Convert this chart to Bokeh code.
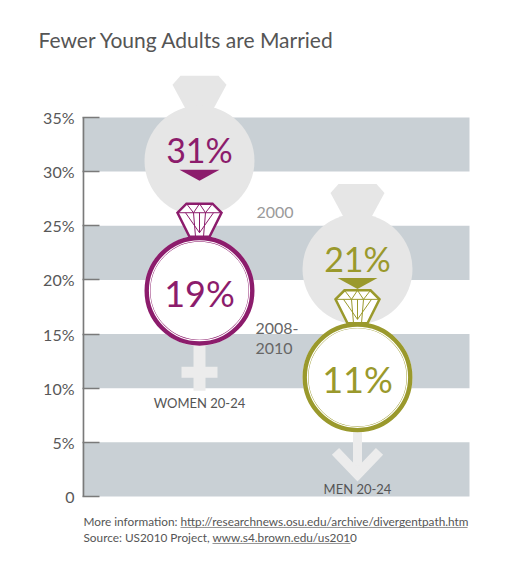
from bokeh.plotting import figure
from bokeh.models import FixedTicker, Range1d
from bokeh.core.properties import value
from bokeh.embed import file_html
from bokeh.resources import INLINE

# ---------------- data ----------------
groups = ["WOMEN 20-24", "MEN 20-24"]
pct_2000 = [31, 21]
pct_2010 = [19, 11]
group_colors = ["#8c1c6c", "#9a992c"]
tick_values = [0, 5, 10, 15, 20, 25, 30, 35]
tick_labels = ["0", "5%", "10%", "15%", "20%", "25%", "30%", "35%"]
band_lows = [0, 10, 20, 30]
band_height = 5
year_2000 = "2000"
year_2010 = ["2008-", "2010"]
title_text = "Fewer Young Adults are Married"
notes = ["More information: http://researchnews.osu.edu/archive/divergentpath.htm",
         "Source: US2010 Project, www.s4.brown.edu/us2010"]

# ---------------- layout ----------------
W, H = 509, 550
MB_L, MB_R, MB_T, MB_B = 82, 10, 60, 2
FW = W - MB_L - MB_R
FH = H - MB_T - MB_B
YS = 10.829                  # px per percent
Y1 = 40.26
Y0 = Y1 - FH / YS


def dy(px):
    return px / YS


cat_x = [117, 275]
band_right = 387
FONT = "Lato"
GRAY_TXT = "#585858"
SIL = "#e6e6e6"
SYM = "#ececec"

p = figure(width=W, height=H, output_backend="svg", toolbar_location=None,
           x_range=Range1d(0, FW), y_range=Range1d(Y0, Y1),
           x_axis_location=None, min_border_left=MB_L, min_border_right=MB_R,
           min_border_top=MB_T, min_border_bottom=MB_B)
p.outline_line_color = None
p.xgrid.visible = False
p.ygrid.visible = False
p.background_fill_color = "white"
p.border_fill_color = "white"

p.title.text = title_text
p.title.text_font = FONT
p.title.text_font_size = "21px"
p.title.text_font_style = "normal"
p.title.text_color = "#555555"
p.title.align = "left"
p.title.offset = -44
p.title.standoff = 18

ax = p.yaxis[0]
ax.ticker = FixedTicker(ticks=tick_values)
ax.major_label_overrides = {v: l for v, l in zip(tick_values, tick_labels)}
ax.major_label_text_font = FONT
ax.major_label_text_font_size = "16px"
ax.major_label_text_color = GRAY_TXT
ax.major_tick_in = 17
ax.major_tick_out = 0
ax.major_tick_line_color = "#7a7a7a"
ax.major_tick_line_width = 1.5
ax.minor_tick_line_color = None
ax.axis_line_color = None
ax.major_label_standoff = 8

# bands
p.quad(left=[0] * len(band_lows), right=[band_right] * len(band_lows),
       bottom=band_lows, top=[b + band_height for b in band_lows],
       fill_color="#c9d0d5", line_color=None)
# axis line
p.segment(x0=[0.8], y0=[tick_values[0]], x1=[0.8], y1=[tick_values[-1]],
          line_color="#7a7a7a", line_width=2)

# ------------- 2000 silhouettes -------------
for cx, v, col in zip(cat_x, pct_2000, group_colors):
    ctop = v + dy(55)
    p.patch([cx - 19, cx + 19, cx + 27, cx + 14, cx - 14, cx - 27],
            [ctop + dy(30), ctop + dy(30), ctop + dy(21), ctop - dy(3), ctop - dy(3), ctop + dy(21)],
            fill_color=SIL, line_color=None)
p.scatter(cat_x, pct_2000, size=110, marker="circle", fill_color=SIL, line_color=None)
for cx, v, col in zip(cat_x, pct_2000, group_colors):
    p.text([cx], [v], text=[f"{v}%"], text_align="center", text_baseline="middle",
           y_offset=-11, text_font=value(FONT), text_font_size="34px", text_color=col)
    p.patch([cx - 20, cx + 20, cx], [v - dy(9), v - dy(9), v - dy(20)],
            fill_color=col, line_color=None)

p.text([174], [26.2], text=[year_2000], text_align="left", text_baseline="middle",
       text_font=value(FONT), text_font_size="16px", text_color="#9a9a9a")
p.text([173, 173], [15.55, 13.7], text=year_2010, text_align="left", text_baseline="middle",
       text_font=value(FONT), text_font_size="16px", text_color="#666666")

# ------------- gender symbols -------------
cxw, vw = cat_x[0], pct_2010[0]
rbw = vw - dy(54)
p.quad(left=[cxw - 6], right=[cxw + 6], top=[rbw], bottom=[rbw - dy(46)], fill_color=SYM, line_color=None)
p.quad(left=[cxw - 18], right=[cxw + 18], top=[rbw - dy(22)], bottom=[rbw - dy(33)], fill_color=SYM, line_color=None)
cxm, vm = cat_x[1], pct_2010[1]
rbm = vm - dy(54)
p.quad(left=[cxm - 4.5], right=[cxm + 4.5], top=[rbm], bottom=[rbm - dy(38)], fill_color=SYM, line_color=None)
p.line([cxm - 22, cxm, cxm + 22], [rbm - dy(20), rbm - dy(43), rbm - dy(20)],
       line_color=SYM, line_width=10, line_join="miter")

# ------------- 2010 rings -------------
p.scatter(cat_x, pct_2010, size=110, marker="circle", fill_color="white", line_color=None)
p.scatter(cat_x, pct_2010, size=104, marker="circle", fill_color=None, line_color=group_colors, line_width=6)
p.scatter(cat_x, pct_2010, size=100, marker="circle", fill_color=None, line_color="white", line_width=1.2)

for cx, v, col, g in zip(cat_x, pct_2010, group_colors, groups):
    rt = v + dy(54)
    p.patch([cx - 13, cx + 13, cx + 22, cx + 10, cx - 10, cx - 22],
            [rt + dy(33), rt + dy(33), rt + dy(24), rt, rt, rt + dy(24)],
            fill_color="white", line_color=col, line_width=2.5, line_join="miter")
    segs_x = [[cx - 22, cx + 22], [cx - 13, cx - 6], [cx + 13, cx + 6], [cx, cx - 6], [cx, cx + 6],
              [cx - 14, cx], [cx + 14, cx], [cx - 6, cx - 4], [cx + 6, cx + 4], [cx, cx]]
    segs_y = [[rt + dy(24)] * 2, [rt + dy(33), rt + dy(24)], [rt + dy(33), rt + dy(24)],
              [rt + dy(33), rt + dy(24)], [rt + dy(33), rt + dy(24)],
              [rt + dy(24), rt + dy(4)], [rt + dy(24), rt + dy(4)],
              [rt + dy(24), rt], [rt + dy(24), rt], [rt + dy(24), rt + dy(4)]]
    p.multi_line(segs_x, segs_y, line_color=col, line_width=1)
    p.text([cx], [v], text=[f"{v}%"], text_align="center", text_baseline="middle",
           y_offset=2, text_font=value(FONT), text_font_size="36px", text_color=col)
    p.text([cx], [v - dy(54) - dy(58)], text=[g], text_align="center", text_baseline="middle",
           text_font=value(FONT), text_font_size="13px", text_color="#555555")

# ------------- notes -------------
note_y = [-dy(25), -dy(41)]
p.text([1, 1], note_y, text=notes, text_align="left", text_baseline="middle",
       text_font=value(FONT), text_font_size="11.8px", text_color="#555555")
p.segment(x0=[98, 130], y0=[note_y[0] - dy(6), note_y[1] - dy(6)],
          x1=[385, 268], y1=[note_y[0] - dy(6), note_y[1] - dy(6)],
          line_color="#777777", line_width=0.8)

open("out.html", "w").write(file_html(p, INLINE))
